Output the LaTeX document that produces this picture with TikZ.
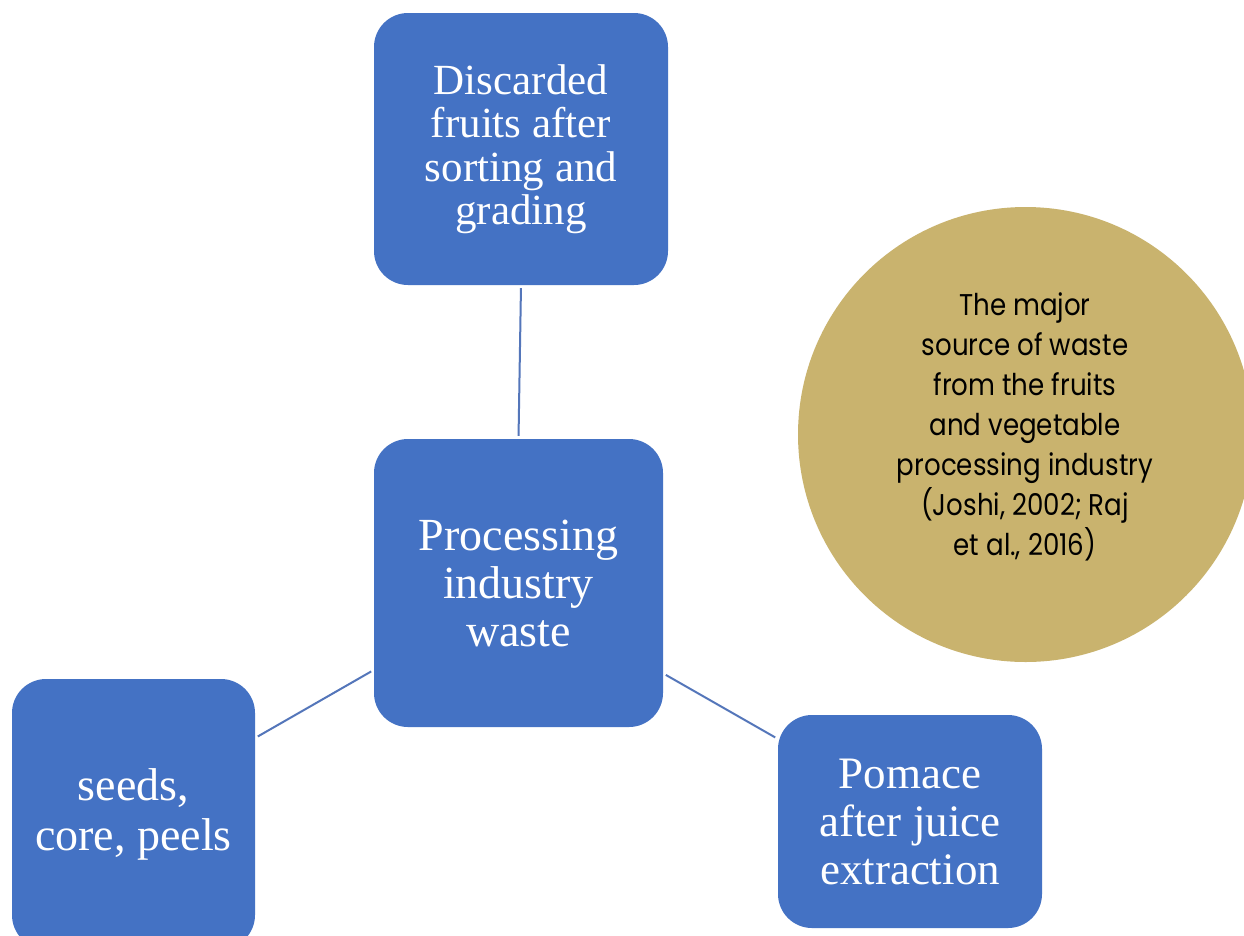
\documentclass[tikz,border=0pt]{standalone}
\usepackage{fontspec}
\newfontfamily\boxfont{Liberation Serif}
\newfontfamily\circfont[FakeStretch=0.87]{Poppins}
\definecolor{boxblue}{RGB}{68,114,196}
\definecolor{gold}{RGB}{201,179,110}
\definecolor{linkblue}{RGB}{84,118,186}
\tikzset{
  bluebox/.style={rectangle, rounded corners=34pt, fill=boxblue, draw=none,
    inner sep=0pt, align=center, text=white},
  link/.style={draw=linkblue, line width=2pt, shorten <=3pt, shorten >=3pt},
}
\begin{document}
\begin{tikzpicture}[x=1pt,y=-1pt]
\useasboundingbox (0,0) rectangle (1244,935);
\clip (0,0) rectangle (1244,935);
\fill[white] (0,0) rectangle (1244,935);

\node[bluebox, minimum width=294pt, minimum height=272pt,
  font=\boxfont\fontsize{43}{43.5}\selectfont] (top) at (521,149)
  {Discarded\\fruits after\\sorting and\\grading};
\node[bluebox, minimum width=289pt, minimum height=288pt,
  font=\boxfont\fontsize{46}{48}\selectfont] (mid) at (518.5,583)
  {Processing\\industry\\waste};
\node[bluebox, minimum width=243pt, minimum height=270pt,
  font=\boxfont\fontsize{46}{50}\selectfont] (left) at (133.5,814)
  {seeds,\\core, peels};
\node[bluebox, minimum width=264pt, minimum height=213pt,
  font=\boxfont\fontsize{45}{48}\selectfont] (right) at (910,821.5)
  {Pomace\\after juice\\extraction};

\node[circle, fill=gold, draw=none, minimum size=455pt, inner sep=0pt] (circ) at (1025.5,434.5) {};
\node[align=center, inner sep=0pt, font=\circfont\fontsize{30}{40}\selectfont] (note) at (1025,427)
  {The major\\source of waste\\from the fruits\\and vegetable\\processing industry\\(Joshi, 2002; Raj\\et al., 2016)};

\draw[link] (top.south) -- (mid.north);
\draw[link] (mid.211.6) -- (left.32.0);
\draw[link] (mid.328.1) -- (right.148.3);
\end{tikzpicture}
\end{document}
